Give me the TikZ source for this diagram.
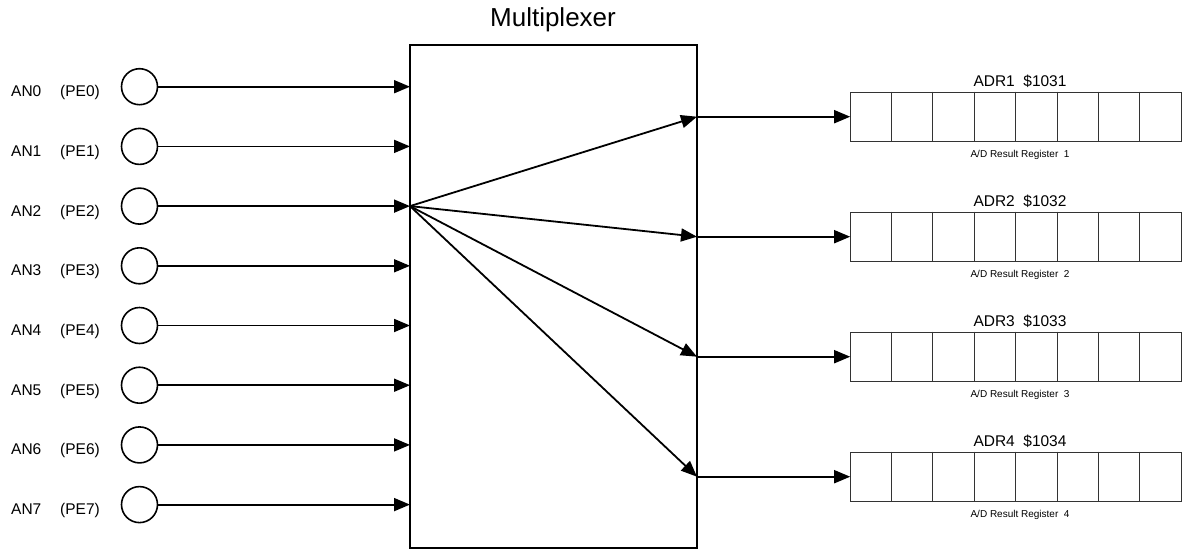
\documentclass[tikz,border=0pt]{standalone}
\usepackage{fontspec}
\setmainfont{Liberation Sans}
\usetikzlibrary{arrows.meta}
\begin{document}
\begin{tikzpicture}[x=1pt,y=-1pt,
  wire/.style={line width=1.8pt,-{Triangle[length=16pt,width=13pt]}},
  port/.style={circle,draw,line width=1.6pt,minimum size=36pt,inner sep=0pt},
  lbl/.style={font=\fontsize{15.5}{18}\selectfont,inner sep=0pt,anchor=base west},
  reglbl/.style={font=\fontsize{15.5}{18}\selectfont,inner sep=0pt,anchor=base},
  regsub/.style={font=\fontsize{10}{12}\selectfont,inner sep=0pt,anchor=base},
  regbox/.style={draw=black!80,line width=1pt,minimum width=331pt,minimum height=49pt,inner sep=0pt},
  muxbox/.style={draw,line width=2pt,minimum width=287pt,minimum height=503pt,inner sep=0pt}]
\useasboundingbox (0,0) rectangle (1191,549);
\node[muxbox] (mux) at (553.5,296.5) {};
\node[font=\fontsize{26}{30}\selectfont,inner sep=0pt,anchor=base] (muxt) at (553,26.7) {Multiplexer};
\foreach \i in {0,...,7}{
  \pgfmathsetmacro{\yy}{86.7+\i*59.7}
  \node[lbl] (an\i) at (11,\yy+10) {AN\i};
  \node[lbl] (pe\i) at (60,\yy+10) {(PE\i)};
  \node[port] (c\i) at (139.5,\yy) {};
  \coordinate (in\i) at (410,\yy);
  \draw[wire] (c\i.east) -- (in\i);
}
\foreach \r/\adr in {1/1031,2/1032,3/1033,4/1034}{
  \pgfmathsetmacro{\yy}{116.7+(\r-1)*120}
  \node[regbox] (reg\r) at (1016.2,\yy) {};
  \foreach \k in {1,...,7}{
    \draw[black!80,line width=1pt] ([xshift=\k*41.375pt]reg\r.north west) -- ([xshift=\k*41.375pt]reg\r.south west);
  }
  \node[reglbl] (adr\r) at (1020,\yy-30) {ADR\r\hspace{0.55em}\$\adr};
  \node[regsub] (sub\r) at (1020,\yy+41) {A/D Result Register\hspace{0.55em}\r};
  \coordinate (out\r) at (697,\yy);
  \draw[wire] (in2) -- (out\r);
  \draw[wire] (out\r) -- (reg\r.west);
}
\end{tikzpicture}
\end{document}
